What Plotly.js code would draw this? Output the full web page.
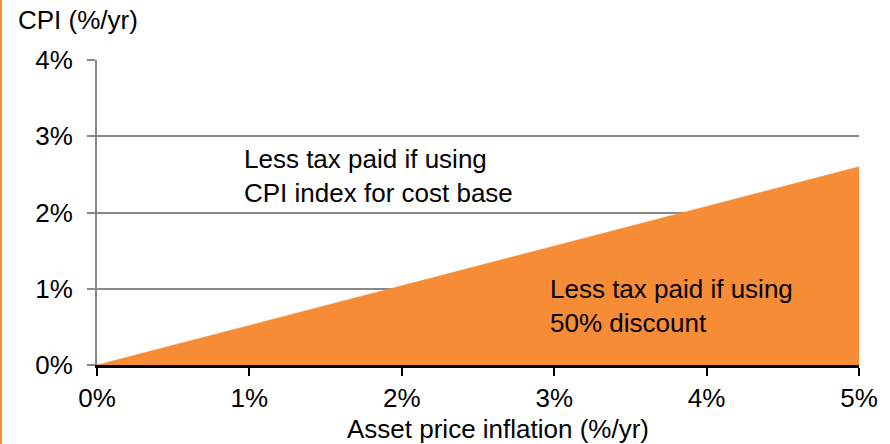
<!DOCTYPE html>
<html>
<head>
<meta charset="utf-8">
<script src="https://cdn.plot.ly/plotly-3.0.1.min.js"></script>
<style>
html,body{margin:0;padding:0;background:#fff;}
#chart{width:890px;height:444px;}
</style>
</head>
<body>
<div id="chart"></div>
<script>
var assetInflation = [0, 5];
var cpiBreakEven = [0, 2.6];
var xTickVals = [0, 1, 2, 3, 4, 5];
var xTickText = ['0%', '1%', '2%', '3%', '4%', '5%'];
var yTickVals = [0, 1, 2, 3, 4];
var yTickText = ['0%', '1%', '2%', '3%', '4%'];
var labelAbove = 'Less tax paid if using<br>CPI index for cost base';
var labelBelow = 'Less tax paid if using<br>50% discount';
var xTitle = 'Asset price inflation (%/yr)';
var yTitle = 'CPI (%/yr)';

var orange = '#F68C36';
var fontFam = 'Liberation Sans, Arial, sans-serif';

var trace = {
  x: assetInflation,
  y: cpiBreakEven,
  type: 'scatter',
  mode: 'lines',
  fill: 'tozeroy',
  fillcolor: orange,
  line: {color: orange, width: 0.5},
  hoverinfo: 'skip',
  showlegend: false
};

var L = 97, R = 31, T = 60, B = 79;
var pw = 890 - L - R, ph = 444 - T - B;

var layout = {
  width: 890,
  height: 444,
  margin: {l: L, r: R, t: T, b: B, pad: 0},
  paper_bgcolor: '#ffffff',
  plot_bgcolor: '#ffffff',
  font: {family: fontFam, size: 26, color: '#000000'},
  showlegend: false,
  xaxis: {
    range: [0, 5],
    tickvals: xTickVals,
    ticktext: xTickText,
    ticks: 'outside',
    ticklen: 8,
    tickwidth: 2,
    tickcolor: '#000000',
    showgrid: false,
    zeroline: false,
    showline: true,
    linecolor: '#000000',
    linewidth: 3,
    ticklabelstandoff: 0,
    tickfont: {size: 26},
    fixedrange: true
  },
  yaxis: {
    range: [0, 4],
    tickvals: yTickVals,
    ticktext: yTickText,
    ticks: 'outside',
    ticklen: 8,
    tickwidth: 2,
    tickcolor: '#888888',
    showgrid: true,
    gridcolor: '#888888',
    gridwidth: 2,
    zeroline: false,
    showline: true,
    linecolor: '#888888',
    linewidth: 2,
    ticklabelstandoff: 9,
    tickfont: {size: 26},
    fixedrange: true
  },
  shapes: [
    {
      type: 'line',
      xref: 'paper', yref: 'paper',
      x0: -(L - 1) / pw, x1: -(L - 1) / pw,
      y0: -B / ph, y1: 1 + T / ph,
      line: {color: orange, width: 2}
    }
  ],
  annotations: [
    {
      text: yTitle,
      xref: 'paper', yref: 'paper',
      x: -(L - 16) / pw, y: 1 + (T - 20) / ph,
      xanchor: 'left', yanchor: 'middle',
      showarrow: false,
      font: {size: 26}
    },
    {
      text: xTitle,
      xref: 'paper', yref: 'paper',
      x: (498 - L) / pw, y: -(429 - 365) / ph,
      xanchor: 'center', yanchor: 'middle',
      showarrow: false,
      font: {size: 26}
    },
    {
      text: labelAbove,
      xref: 'x', yref: 'y',
      x: 0.95, y: 2.48,
      xanchor: 'left', yanchor: 'middle', align: 'left',
      showarrow: false,
      font: {size: 26}
    },
    {
      text: labelBelow,
      xref: 'x', yref: 'y',
      x: 2.96, y: 0.77,
      xanchor: 'left', yanchor: 'middle', align: 'left',
      showarrow: false,
      font: {size: 26}
    }
  ]
};

Plotly.newPlot('chart', [trace], layout, {displayModeBar: false, staticPlot: true});
</script>
</body>
</html>
